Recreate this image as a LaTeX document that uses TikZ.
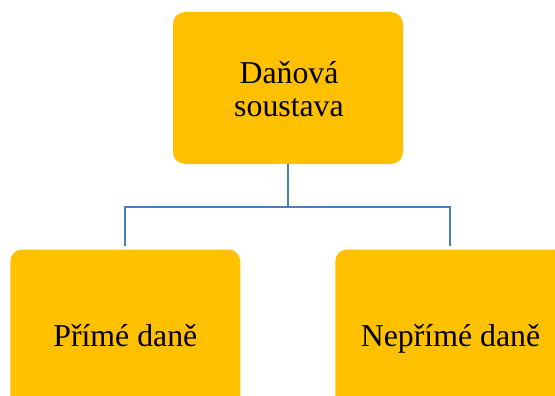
\documentclass[tikz,border=0pt]{standalone}
\usepackage{fontspec}
\setmainfont{Liberation Serif}
\definecolor{boxgold}{HTML}{FFC000}
\definecolor{connblue}{HTML}{4A7EBB}
\tikzset{
  goldbox/.style={fill=boxgold, draw=none, rounded corners=12pt, minimum width=230pt, inner sep=0pt},
  label text/.style={font=\fontsize{31.8}{33.5}\selectfont, text=black, inner sep=0pt, anchor=base},
  conn/.style={draw=connblue, line width=2pt}
}
\begin{document}
\begin{tikzpicture}[x=1pt,y=-1pt]
\useasboundingbox (0,0) rectangle (555,396);
\clip (0,0) rectangle (555,396);
\node[goldbox, minimum height=152pt] (top) at (288,88) {};
\node[goldbox, minimum height=175pt] (left) at (125.3,337) {};
\node[goldbox, minimum height=175pt] (right) at (450.3,337) {};
\node[label text] (t1) at (289,84) {Daňová};
\node[label text] (t2) at (289,117) {soustava};
\node[label text] (l1) at (125.3,346.5) {Přímé daně};
\node[label text] (r1) at (450.5,346.5) {Nepřímé daně};
\coordinate (j) at (288,207);
\draw[conn] (top.south) -- (j);
\draw[conn, shorten >=3pt] (j) -| (left.north);
\draw[conn, shorten >=3pt] (j) -| (right.north);
\end{tikzpicture}
\end{document}
